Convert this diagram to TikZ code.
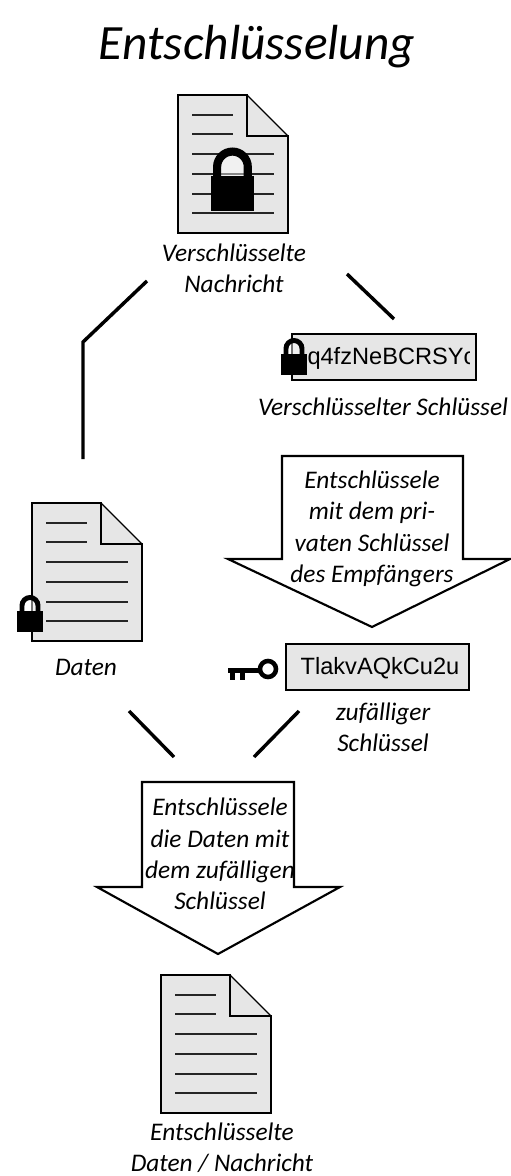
\documentclass[tikz,border=0pt]{standalone}
\usepackage{fontspec}
\setmainfont{Carlito}
\newfontfamily\boxfont{Liberation Sans}
\usetikzlibrary{positioning}

\definecolor{paper}{RGB}{230,230,230}
\tikzset{every picture/.style={line width=0.75pt},
  outline/.style={draw=black,line width=1.6pt,line join=miter},
  greybox/.style={outline,fill=paper},
  connector/.style={draw=black,line width=2.6pt},
  hand/.style={inner sep=0pt,align=center,font=\itshape\fontsize{19}{23.5}\selectfont},
  boxtext/.style={inner sep=0pt,font=\boxfont\fontsize{17.7}{20}\selectfont}}

% sheet with fold and six text lines, (#1) is the top left corner
\newcommand{\sheet}[1]{
  \begin{scope}[shift={(#1)}]
    \fill[paper] (0,0) -- (69,0) -- (110,41) -- (110,138) -- (0,138) -- cycle;
    \draw[outline] (69,0) -- (0,0) -- (0,138) -- (110,138) -- (110,41) -- (69,41) -- cycle;
    \draw[line width=0.9pt] (69,0) -- (110,41);
    \draw[line width=0.9pt,black!85] (14,20) -- (55,20) (14,39) -- (55,39);
    \foreach \y in {59,79,99,118} {\draw[line width=0.9pt,black!85] (14,\y) -- (96,\y);}
  \end{scope}}

% padlock, (#1) is the top left corner of the body, #2 its scale, #3 the shackle radius
\newcommand{\padlock}[3]{
  \begin{scope}[shift={(#1)},scale=#2]
    \fill[white,opacity=0.45] (13-#3,1) -- (13-#3,-5.5) arc (180:360:#3) -- (13+#3,1) -- cycle;
    \draw[black,line width=#2*3.7pt] (13-#3,1) -- (13-#3,-5.5) arc (180:360:#3) -- (13+#3,1);
    \fill[black] (0,0) rectangle (26,21);
  \end{scope}}

\begin{document}
\begin{tikzpicture}[x=0.75pt,y=0.75pt,yscale=-1,xscale=1]
\useasboundingbox (0,0) rectangle (510,1176);

% Title
\node[hand,font=\itshape\fontsize{37}{40}\selectfont] (title) at (257,47) {Entschlüsselung};

% encrypted message
\sheet{178,95}
\padlock{211,176}{1.65}{9.3}
\node[hand] (message) at (234,268) {Verschlüsselte\\Nachricht};

% encrypted key
\node[greybox,minimum width=138pt,minimum height=34.5pt] (enckeybox) at (384,357) {};
\begin{scope}
  \clip (293,334) rectangle (469,380);
  \node[boxtext,anchor=west] (enckey) at (307,358) {q4fzNeBCRSYc};
\end{scope}
\padlock{281,354}{1}{8}
\node[hand] (enckeylabel) at (383,407) {Verschlüsselter Schlüssel};

% data
\sheet{32,503}
\padlock{17,611}{1}{8}
\node[hand] (data) at (86,667) {Daten};

% first arrow
\draw[outline,fill=white] (282,456) -- (463,456) -- (463,559) -- (510,559) -- (372,627) -- (228,559) -- (282,559) -- cycle;
\node[hand] (decrypt1) at (372,529) {Entschlüssele\\mit dem pri-\\vaten Schlüssel\\des Empfängers};

% random key
\node[greybox,minimum width=137pt,minimum height=34.5pt] (randbox) at (377.5,667) {};
\node[boxtext] (randkey) at (380,668) {TlakvAQkCu2u};
\draw[line width=3.8pt] (228,670.5) -- (259,670.5);
\draw[line width=3.8pt] (232.5,670) -- (232.5,680) (242.5,670) -- (242.5,680);
\draw[line width=3.4pt] (268,669) circle (8);
\node[hand] (randlabel) at (383,727) {zufälliger\\Schlüssel};

% second arrow
\draw[outline,fill=white] (142,782) -- (294,782) -- (294,887) -- (340,887) -- (218,954) -- (97,887) -- (142,887) -- cycle;
\node[hand] (decrypt2) at (220,854) {Entschlüssele\\die Daten mit\\dem zufälligen\\Schlüssel};

% result
\sheet{161,975}
\node[hand] (result) at (222,1148) {Entschlüsselte\\Daten / Nachricht};

% connectors
\coordinate (m1) at (147,281);
\coordinate (m2) at (83,342);
\coordinate (m3) at (83,459);
\coordinate (k1) at (347,274);
\coordinate (k2) at (394,319);
\coordinate (d1) at (129,711);
\coordinate (d2) at (174,757);
\coordinate (r1) at (299,711);
\coordinate (r2) at (254,757);
\draw[connector] (m1) -- (m2) -- (m3);
\draw[connector] (k1) -- (k2);
\draw[connector] (d1) -- (d2);
\draw[connector] (r1) -- (r2);
\end{tikzpicture}
\end{document}
